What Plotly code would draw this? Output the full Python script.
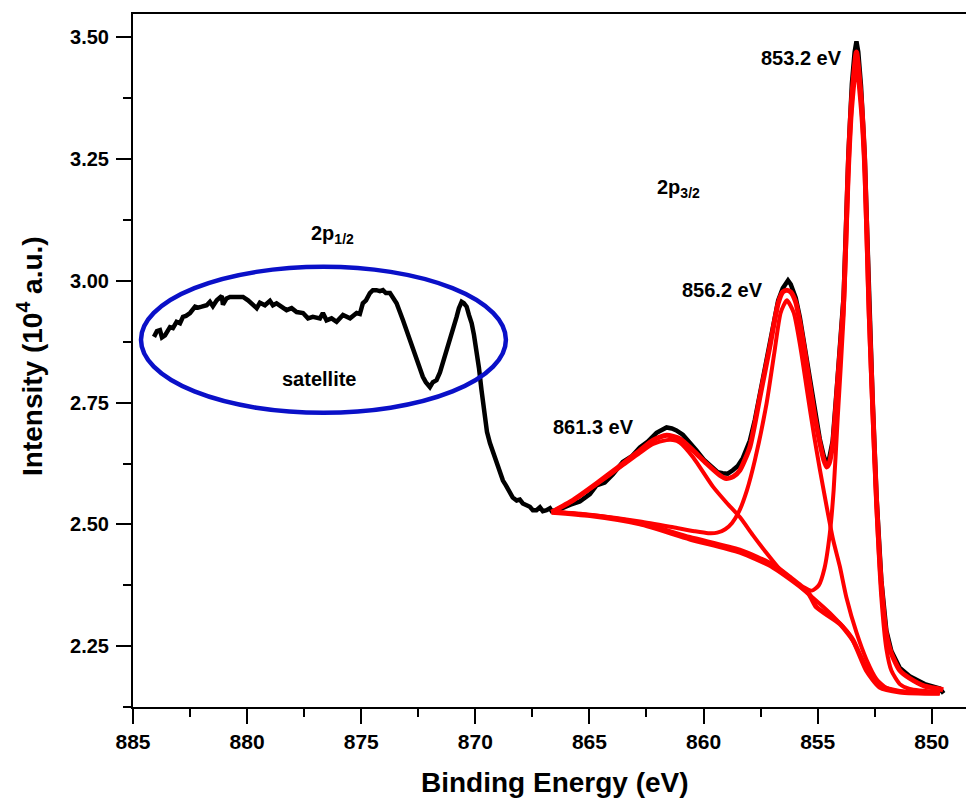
import plotly.graph_objects as go

# ---------------- data ----------------
exp_energy = [
    884.08, 883.95, 883.82, 883.73, 883.60, 883.38, 883.25, 883.09, 882.94, 882.81,
    882.68, 882.50, 882.28, 882.15, 881.99, 881.77, 881.63, 881.50, 881.33, 881.11,
    881.06, 880.90, 880.75, 880.46, 880.18, 879.96, 879.74, 879.58, 879.44, 879.22,
    879.00, 878.87, 878.71, 878.49, 878.27, 878.05, 877.83, 877.55, 877.33, 877.12,
    876.81, 876.68, 876.52, 876.30, 876.08, 875.80, 875.49, 875.20, 875.06, 874.93,
    874.79, 874.62, 874.49, 874.33, 874.18, 874.05, 873.92, 873.74, 873.45, 873.17,
    872.87, 872.57, 872.43, 872.30, 872.17, 871.99, 871.86, 871.70, 871.55, 871.42,
    871.26, 871.11, 870.98, 870.82, 870.72, 870.60, 870.50, 870.38, 870.28, 870.16,
    870.06, 869.95, 869.84, 869.73, 869.58, 869.49, 869.36, 869.23, 869.07, 868.92,
    868.79, 868.66, 868.49, 868.36, 868.19, 868.05, 867.92, 867.74, 867.61, 867.48,
    867.32, 867.17, 867.04, 866.88, 866.73, 866.65,
    866.30, 865.86, 865.42, 864.98, 864.69, 864.33, 863.97, 863.54, 863.14, 862.79,
    862.44, 862.06, 861.83, 861.62, 861.39, 861.19, 860.91, 860.60, 860.31, 859.99,
    859.59, 859.38, 859.16, 858.94, 858.72, 858.50, 858.28, 858.11, 857.97, 857.75,
    857.53, 857.32, 857.10, 856.92, 856.73, 856.53, 856.40, 856.30, 856.18, 855.96,
    855.78, 855.56, 855.34, 855.13, 854.91, 854.73, 854.61, 854.51, 854.34, 854.12,
    853.86, 853.65, 853.50, 853.38, 853.30, 853.22, 853.10, 852.94, 852.76, 852.59,
    852.42, 852.21, 851.99, 851.77, 851.40, 850.97, 850.31, 849.65, 849.48,
]
exp_intensity = [
    2.885, 2.897, 2.899, 2.884, 2.888, 2.905, 2.903, 2.916, 2.913, 2.926,
    2.928, 2.934, 2.947, 2.945, 2.947, 2.950, 2.957, 2.948, 2.960, 2.969,
    2.951, 2.964, 2.967, 2.967, 2.967, 2.960, 2.950, 2.944, 2.955, 2.950,
    2.959, 2.950, 2.954, 2.947, 2.940, 2.944, 2.936, 2.934, 2.923, 2.926,
    2.923, 2.934, 2.919, 2.923, 2.916, 2.930, 2.923, 2.934, 2.932, 2.954,
    2.960, 2.975, 2.981, 2.981, 2.979, 2.981, 2.975, 2.975, 2.954, 2.919,
    2.878, 2.837, 2.817, 2.803, 2.792, 2.782, 2.792, 2.796, 2.812, 2.831,
    2.858, 2.878, 2.899, 2.926, 2.944, 2.957, 2.954, 2.947, 2.930, 2.913,
    2.889, 2.858, 2.821, 2.776, 2.714, 2.690, 2.667, 2.649, 2.625, 2.607,
    2.590, 2.580, 2.564, 2.555, 2.549, 2.551, 2.543, 2.539, 2.536, 2.529,
    2.529, 2.535, 2.527, 2.529, 2.533, 2.527,
    2.531, 2.540, 2.547, 2.562, 2.580, 2.586, 2.603, 2.628, 2.640, 2.658,
    2.670, 2.688, 2.695, 2.699, 2.697, 2.693, 2.684, 2.668, 2.652, 2.633,
    2.617, 2.607, 2.605, 2.604, 2.611, 2.620, 2.636, 2.656, 2.672, 2.715,
    2.770, 2.820, 2.872, 2.915, 2.960, 2.985, 2.996, 3.001, 2.993, 2.965,
    2.925, 2.862, 2.795, 2.732, 2.676, 2.640, 2.626, 2.632, 2.672, 2.805,
    2.970, 3.262, 3.405, 3.470, 3.492, 3.470, 3.400, 3.258, 2.968, 2.752,
    2.556, 2.385, 2.282, 2.240, 2.205, 2.188, 2.172, 2.163, 2.153,
]

env_energy = [
    866.66, 865.71, 864.69, 863.52, 862.79, 862.21, 861.62, 861.04, 860.46, 859.87,
    859.29, 859.00, 858.70, 858.41, 857.97, 857.53, 857.10, 856.73, 856.53, 856.35,
    856.18, 855.96, 855.78, 855.56, 855.34, 855.13, 854.91, 854.73, 854.61, 854.50,
    854.34, 854.12, 853.86, 853.65, 853.50, 853.30, 853.10, 852.94, 852.76, 852.59,
    852.42, 852.21, 851.99, 851.77, 851.40, 850.97, 850.31, 849.65, 849.50,
]
env_intensity = [
    2.525, 2.550, 2.584, 2.625, 2.652, 2.673, 2.683, 2.676, 2.652, 2.625,
    2.601, 2.594, 2.598, 2.611, 2.659, 2.762, 2.864, 2.954, 2.977, 2.981,
    2.977, 2.956, 2.915, 2.854, 2.786, 2.724, 2.669, 2.632, 2.618, 2.625,
    2.665, 2.796, 2.961, 3.250, 3.380, 3.470, 3.380, 3.250, 2.961, 2.746,
    2.550, 2.379, 2.276, 2.235, 2.200, 2.184, 2.168, 2.162, 2.160,
]

bg_energy = [866.66, 864.98, 862.79, 860.60, 858.41, 856.95, 855.40, 855.05,
             854.03, 853.45, 852.86, 852.28, 851.40, 849.65]
bg_intensity = [2.525, 2.518, 2.501, 2.470, 2.443, 2.412, 2.358, 2.330,
                2.296, 2.262, 2.200, 2.166, 2.156, 2.153]

p861_energy = [866.66, 865.71, 864.69, 863.52, 862.79, 862.21, 861.62, 861.33, 861.04,
               860.46, 859.58, 858.98, 858.41, 857.84, 857.24, 856.66, 856.00, 855.35,
               854.47, 853.59, 852.86, 852.28, 851.40, 849.65]
p861_intensity = [2.525, 2.549, 2.582, 2.622, 2.647, 2.665, 2.673, 2.673, 2.668,
                  2.638, 2.577, 2.544, 2.515, 2.478, 2.441, 2.408, 2.382, 2.355,
                  2.318, 2.272, 2.207, 2.170, 2.158, 2.155]

p856_energy = [866.66, 864.54, 862.79, 861.33, 860.40, 859.80, 859.40, 859.05, 858.75,
               858.45, 858.10, 857.75, 857.24, 856.90, 856.62, 856.35, 856.05, 855.75,
               855.45, 855.15, 854.90, 854.62, 854.33, 854.03, 853.74, 853.30, 852.86,
               852.42, 851.99, 851.40, 849.65]
p856_intensity = [2.526, 2.517, 2.506, 2.494, 2.486, 2.482, 2.483, 2.490, 2.503,
                  2.526, 2.570, 2.632, 2.748, 2.852, 2.935, 2.960, 2.935, 2.862,
                  2.770, 2.680, 2.612, 2.540, 2.470, 2.414, 2.350, 2.278, 2.222,
                  2.182, 2.164, 2.157, 2.153]

p853_energy = [866.66, 864.98, 862.79, 860.60, 858.41, 856.95, 856.20, 855.65, 855.25,
               854.95, 854.70, 854.47, 854.30, 854.12, 853.86, 853.65, 853.50, 853.30,
               853.10, 852.94, 852.76, 852.59, 852.42, 852.21, 851.99, 851.77, 851.40,
               850.97, 849.65]
p853_intensity = [2.526, 2.520, 2.504, 2.474, 2.448, 2.418, 2.392, 2.372, 2.364,
                  2.375, 2.410, 2.480, 2.570, 2.720, 2.930, 3.210, 3.350, 3.440,
                  3.350, 3.215, 2.930, 2.720, 2.530, 2.350, 2.245, 2.200, 2.172,
                  2.162, 2.155]

# labels: (text, energy, intensity)
peak_labels = [
    ("853.2 eV", 855.71, 3.458),
    ("2p<sub>3/2</sub>", 861.08, 3.190),
    ("856.2 eV", 859.18, 2.981),
    ("861.3 eV", 864.81, 2.699),
    ("2p<sub>1/2</sub>", 876.28, 3.096),
    ("satellite", 876.85, 2.798),
]
satellite_box = dict(x0=884.65, x1=868.66, y0=2.729, y1=3.029)

x_ticks = [885, 880, 875, 870, 865, 860, 855, 850]
y_ticks = [2.25, 2.50, 2.75, 3.00, 3.25, 3.50]

# ---------------- figure ----------------
FONT = "Liberation Sans, Arial, sans-serif"
RED = "#ff0000"

fig = go.Figure()
fig.add_trace(go.Scatter(x=exp_energy, y=exp_intensity, mode="lines",
                         line=dict(color="black", width=4.5), name="Experimental"))
for ex, ey, w in [(bg_energy, bg_intensity, 5), (p861_energy, p861_intensity, 4),
                  (p856_energy, p856_intensity, 4), (p853_energy, p853_intensity, 4),
                  (env_energy, env_intensity, 5)]:
    fig.add_trace(go.Scatter(x=ex, y=ey, mode="lines",
                             line=dict(color=RED, width=w, shape="spline", smoothing=0.6)))

fig.add_shape(type="circle", xref="x", yref="y", line=dict(color="#0a10c8", width=4.5),
              **satellite_box)

for text, ex, ey in peak_labels:
    fig.add_annotation(x=ex, y=ey, xref="x", yref="y", text=text, showarrow=False,
                       xanchor="center", yanchor="middle",
                       font=dict(family=FONT, size=20, color="black", weight="bold"))

fig.add_annotation(xref="paper", yref="paper", x=0.507, y=0, yshift=-75,
                   xanchor="center", yanchor="middle",
                   text="Binding Energy (eV)", showarrow=False,
                   font=dict(family=FONT, size=28, color="black", weight="bold"))
fig.add_annotation(xref="paper", yref="paper", x=0, xshift=-103, y=0.5065,
                   xanchor="center", yanchor="middle",
                   text="Intensity (10<sup>4</sup> a.u.)", textangle=-90, showarrow=False,
                   font=dict(family=FONT, size=28, color="black", weight="bold"))

axis_common = dict(showgrid=False, zeroline=False, showline=True, linecolor="black",
                   linewidth=2, ticks="outside", tickwidth=2, ticklen=15,
                   tickcolor="black")

fig.update_xaxes(range=[885, 848.5], tickvals=x_ticks, mirror=True,
                 tickfont=dict(family=FONT, size=21, color="black", weight="bold"),
                 minor=dict(dtick=2.5, tick0=850, ticks="outside", ticklen=8,
                            tickwidth=2, tickcolor="black"),
                 **axis_common)
fig.update_yaxes(range=[2.125, 3.548], tickvals=y_ticks, tickformat=".2f",
                 ticklabelstandoff=3,
                 tickfont=dict(family=FONT, size=20, color="black", weight="bold"),
                 minor=dict(dtick=0.125, tick0=2.25, ticks="outside", ticklen=8,
                            tickwidth=2, tickcolor="black"),
                 **axis_common)

fig.update_layout(width=966, height=798, showlegend=False,
                  margin=dict(l=133, r=0, t=14, b=91),
                  paper_bgcolor="white", plot_bgcolor="white")

fig.write_html("out.html")
